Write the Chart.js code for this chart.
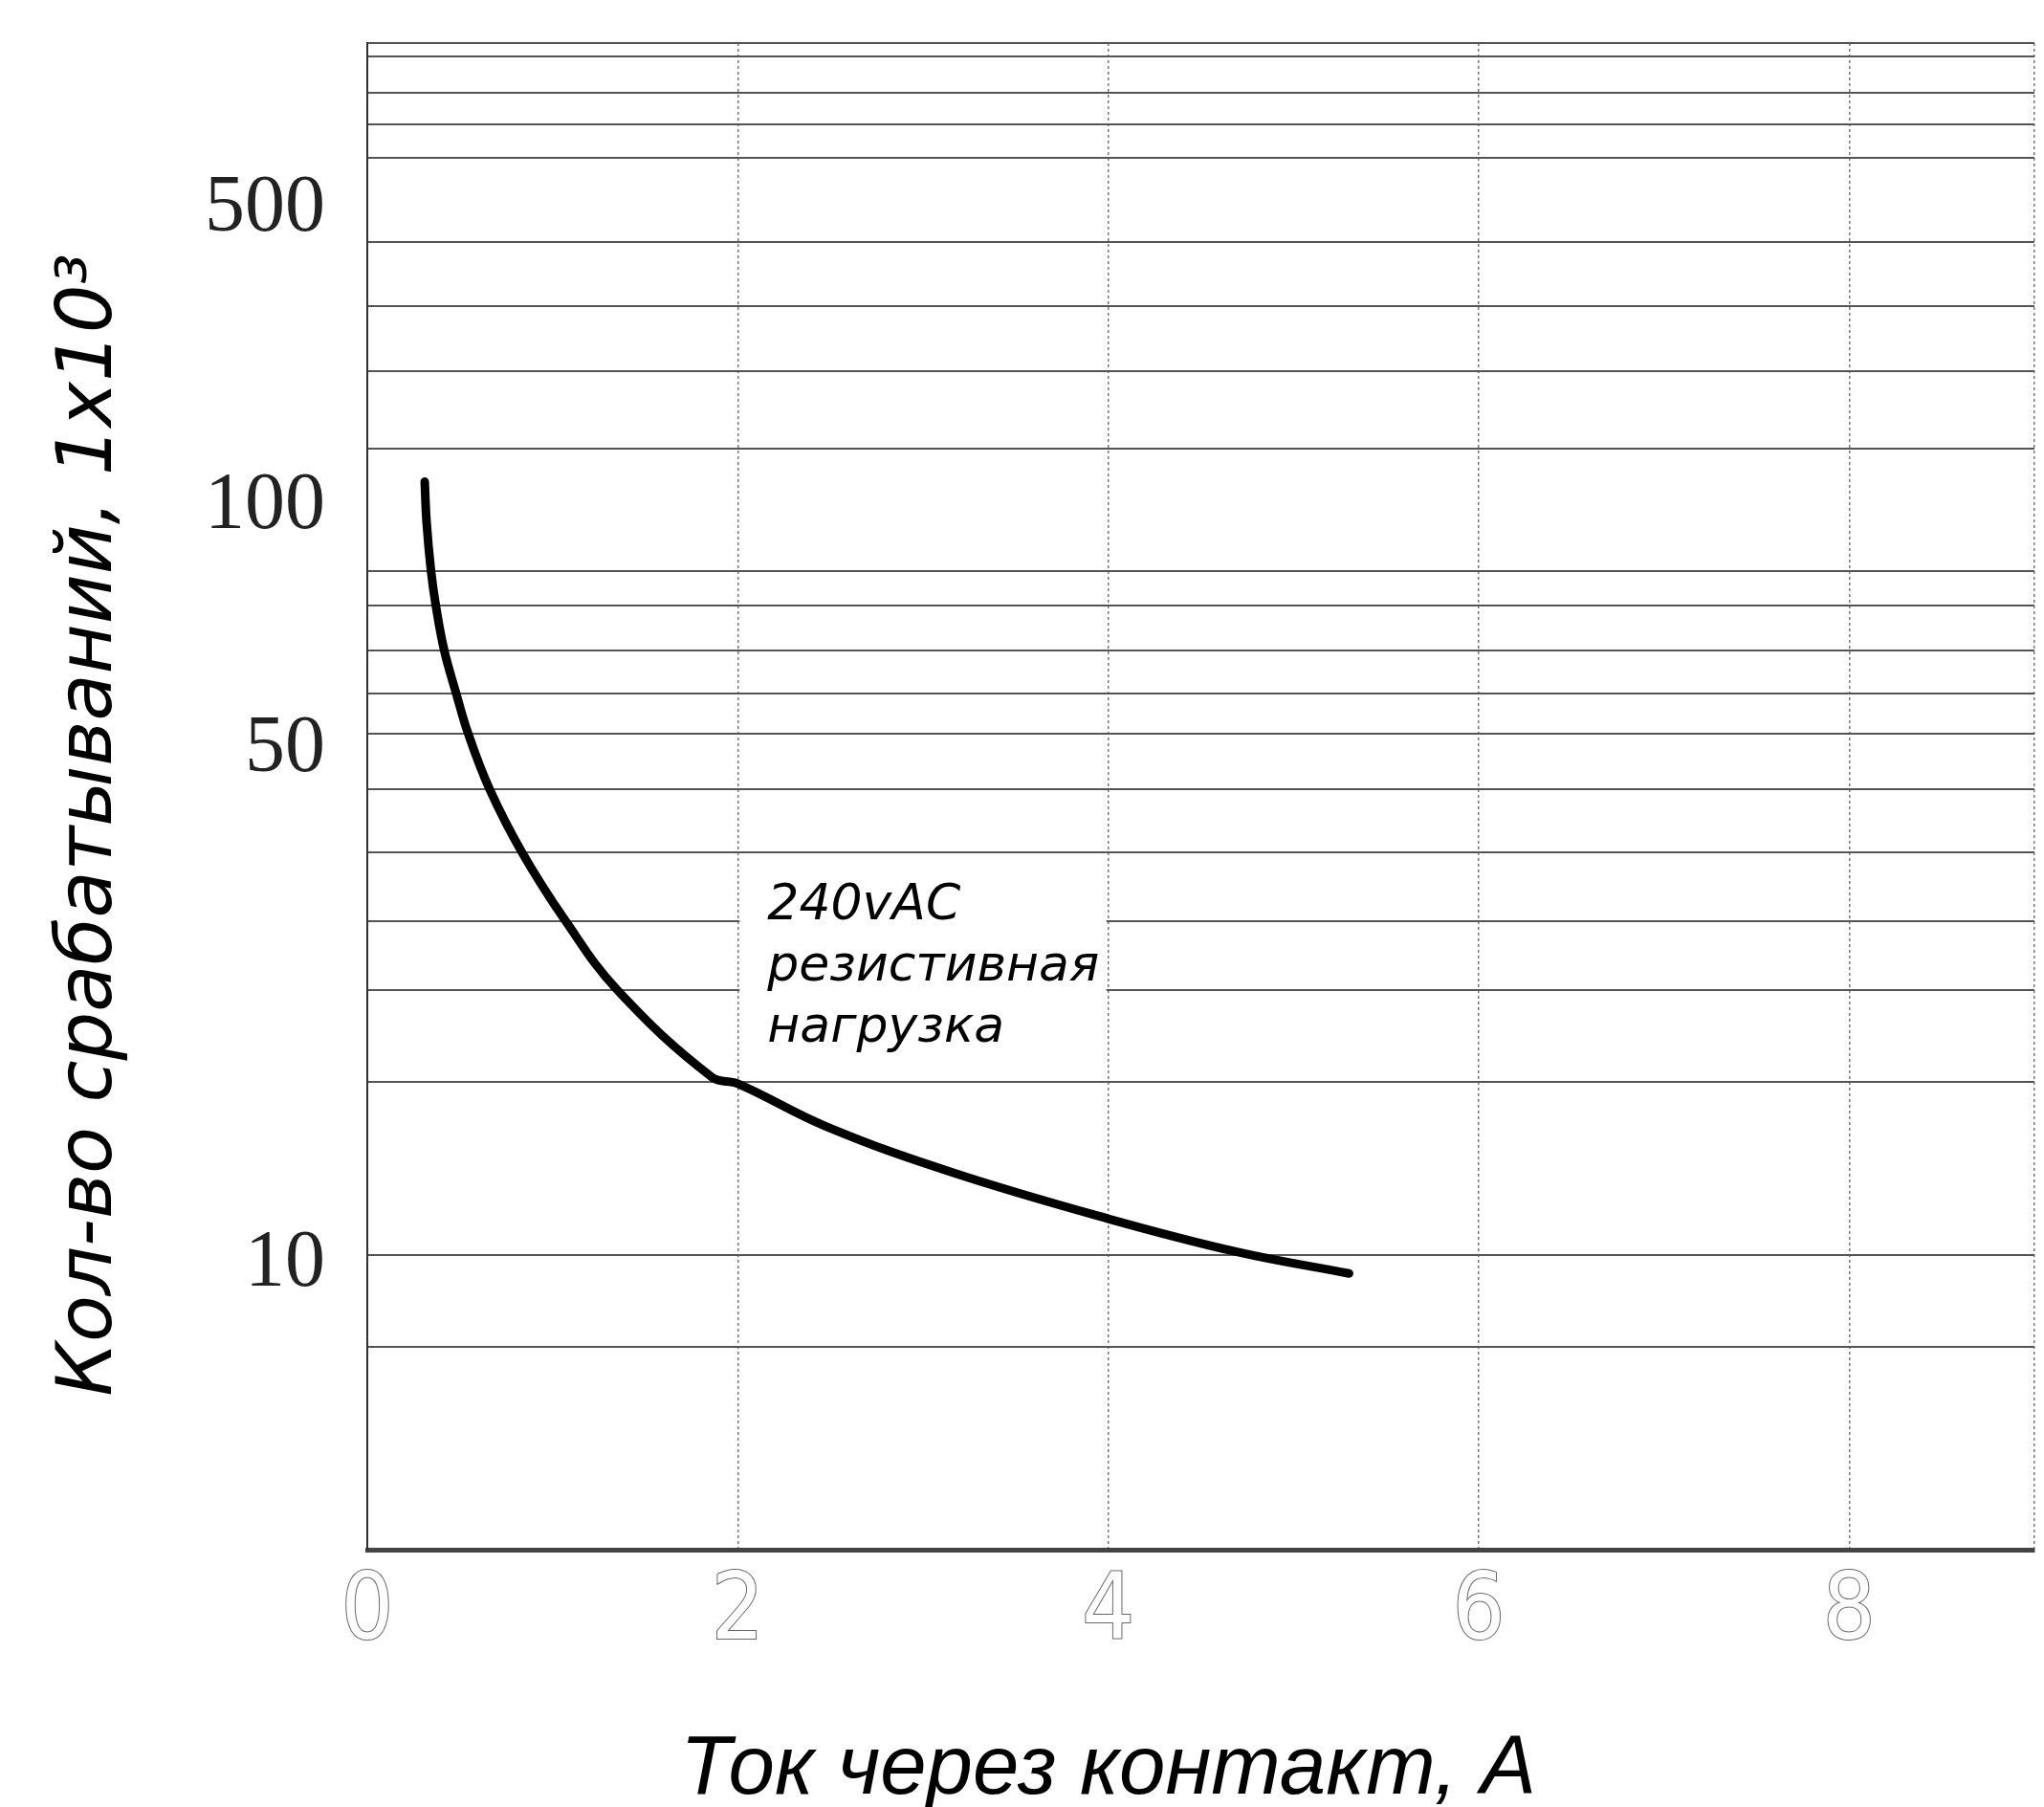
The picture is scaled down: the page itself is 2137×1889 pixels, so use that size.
<!DOCTYPE html>
<html>
<head>
<meta charset="utf-8">
<script src="https://cdn.jsdelivr.net/npm/chart.js@4.4.1/dist/chart.umd.min.js"></script>
<style>
  html, body { margin: 0; padding: 0; background: #fff; }
  canvas { display: block; }
</style>
</head>
<body>
<canvas id="chart" width="2137" height="1889"></canvas>
<script>
// current through contact, A
const current = [0.31, 0.32, 0.344, 0.37, 0.415, 0.48, 0.545, 0.66, 0.835, 1.07, 1.35, 1.86, 2.0, 2.48, 3.16, 4.0, 4.7, 5.3];
// switching cycles, x10^3
const cycles = [135, 118, 100, 89, 76.6, 66.2, 57.8, 48, 38.8, 30.8, 24.4, 18.2, 17.8, 15.4, 13.2, 11.3, 10.1, 9.4];

const xTicks = [0, 2, 4, 6, 8, 9];
const yMin = 3.71, yMax = 591;
// horizontal grid lines as drawn (uneven, like the original sheet)
const yGrid = [3.71, 7.34, 10, 17.9, 24.4, 30.8, 38.8, 48, 57.8, 66.2, 76.6, 89, 100, 151, 196, 244, 303, 401, 450, 500, 565, 591];
// the printed labels sit between the lines
const yLabelValues = [9.7, 54.7, 124, 338];
const yLabels = ['10', '50', '100', '500'];

const xTitle = 'Ток через контакт, А';
const yTitle = 'Кол-во срабатываний, 1x10³';
const noteLines = ['240vAC', 'резистивная', 'нагрузка'];

const decor = {
    id: 'decor',
    beforeDatasetsDraw(chart) {
        const { ctx, scales: { x, y } } = chart;
        // white box behind the note
        ctx.save();
        ctx.fillStyle = '#fff';
        const l = x.getPixelForValue(2) + 2, r = x.getPixelForValue(4) - 2;
        const t = y.getPixelForValue(36), b = y.getPixelForValue(20);
        ctx.fillRect(l, t, r - l, b - t);
        ctx.restore();
    },
    afterDatasetsDraw(chart) {
        const { ctx, chartArea, scales: { x, y } } = chart;
        ctx.save();
        ctx.fillStyle = '#000';

        ctx.font = 'italic 52px "DejaVu Sans"';
        ctx.textBaseline = 'alphabetic';
        const bx = x.getPixelForValue(2.16), by = y.getPixelForValue(31);
        noteLines.forEach((s, i) => ctx.fillText(s, bx, by + i * 64));

        ctx.font = 'italic 87px "Liberation Sans"';
        ctx.textAlign = 'center';
        ctx.fillText(xTitle, x.getPixelForValue(4), chartArea.bottom + 255);

        ctx.translate(95, (chartArea.top + chartArea.bottom) / 2 + 30);
        ctx.rotate(-Math.PI / 2);
        ctx.font = 'italic 80px "DejaVu Sans"';
        ctx.textBaseline = 'middle';
        ctx.fillText(yTitle, 0, 0);
        ctx.restore();
    }
};

new Chart(document.getElementById('chart'), {
    type: 'line',
    data: {
        datasets: [{
            data: current.map((c, i) => ({ x: c, y: cycles[i] })),
            borderColor: '#000',
            borderWidth: 9,
            borderCapStyle: 'round',
            borderJoinStyle: 'round',
            pointRadius: 0,
            tension: 0.4,
            fill: false
        }]
    },
    options: {
        responsive: false,
        animation: false,
        layout: { padding: { top: 45, right: 0, left: 0, bottom: 0 } },
        plugins: { legend: { display: false }, tooltip: { enabled: false } },
        scales: {
            x: {
                type: 'linear',
                min: 0,
                max: 9,
                afterBuildTicks: s => { s.ticks = xTicks.map(v => ({ value: v })); },
                afterFit: s => { s.height = 269; },
                grid: { color: '#777', lineWidth: 1.5, drawTicks: false },
                border: { display: true, color: '#444', width: 5, dash: [3, 3] },
                ticks: {
                    autoSkip: false,
                    maxRotation: 0,
                    padding: 10,
                    color: '#fff',
                    textStrokeColor: '#666',
                    textStrokeWidth: 2,
                    font: { family: '"DejaVu Sans Condensed", "Liberation Sans Narrow", sans-serif', size: 96, weight: 'normal' },
                    callback: v => (v === 9 ? '' : String(v))
                }
            },
            y: {
                type: 'logarithmic',
                min: yMin,
                max: yMax,
                afterBuildTicks: s => {
                    s.ticks = [...yGrid, ...yLabelValues].sort((a, b) => a - b).map(v => ({ value: v }));
                },
                afterFit: s => { s.width = 384; },
                grid: {
                    drawTicks: false,
                    lineWidth: 2,
                    color: c => (yLabelValues.includes(c.tick.value) ? 'rgba(0,0,0,0)' : '#555')
                },
                border: { display: true, color: '#333', width: 2 },
                ticks: {
                    autoSkip: false,
                    padding: 44,
                    color: '#222',
                    font: c => ({
                        family: '"Liberation Serif", serif',
                        size: c.tick && yLabelValues.includes(c.tick.value) ? 84 : 1
                    }),
                    callback: v => {
                        const i = yLabelValues.indexOf(v);
                        return i >= 0 ? yLabels[i] : '';
                    }
                }
            }
        }
    },
    plugins: [decor]
});
</script>
</body>
</html>
